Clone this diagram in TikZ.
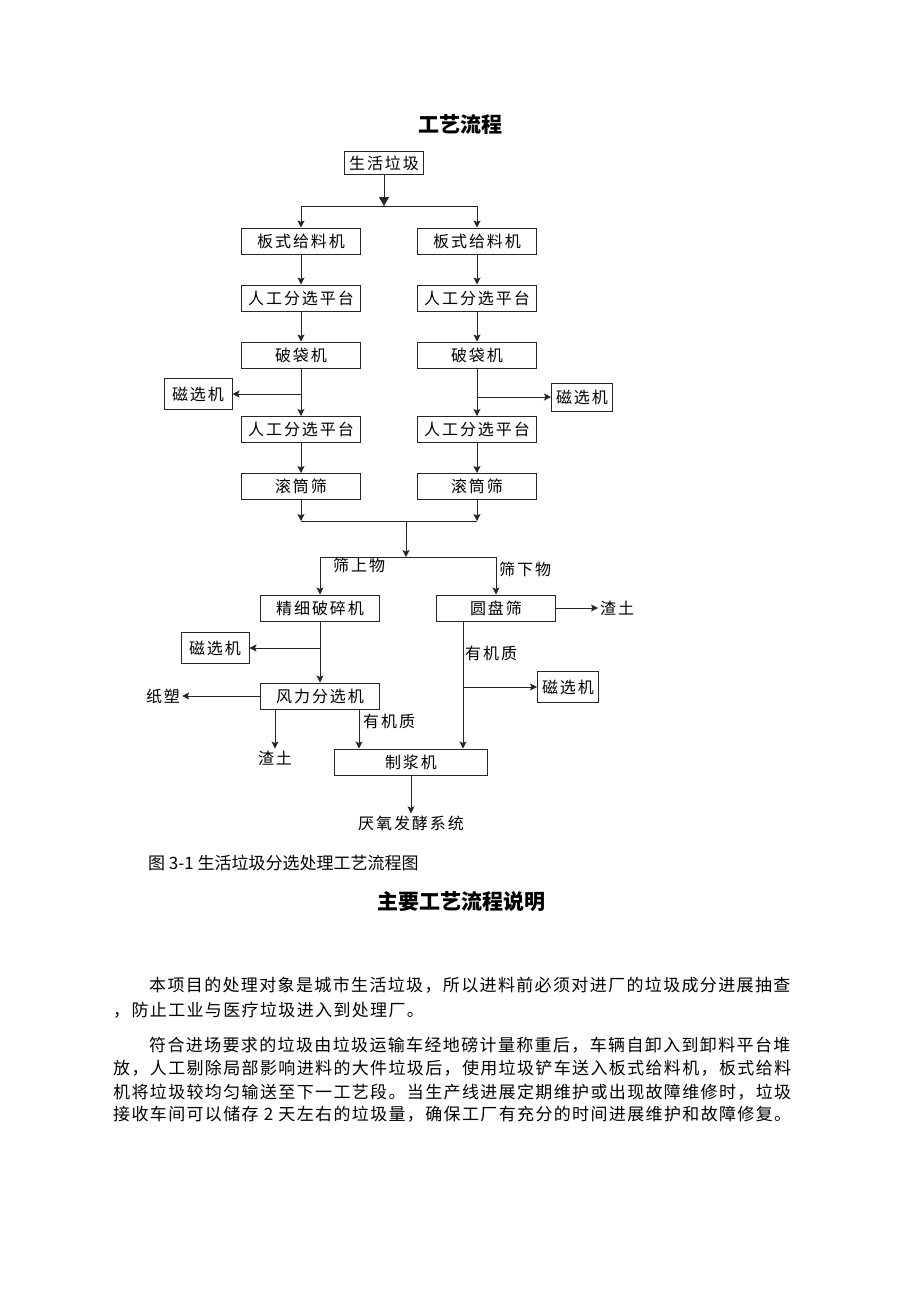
\documentclass[tikz,border=0pt]{standalone}
\usepackage{fontspec}
\newfontfamily\cjk{Noto Sans CJK SC}
\newfontfamily\boxfont[LetterSpace=12]{Noto Sans CJK SC}
\newfontfamily\bodyfont[LetterSpace=8]{Noto Sans CJK SC}
\usetikzlibrary{arrows, arrows.meta}
\tikzstyle{process} = [rectangle, minimum width=119pt, minimum height=26pt,
    inner sep=0pt, text centered, draw=black!85, line width=1pt,
    font=\boxfont\fontsize{16}{16}\selectfont]
\tikzstyle{source} = [process, minimum width=79pt, minimum height=23pt]
\tikzstyle{magnet} = [process, minimum width=68pt, minimum height=31pt]
\tikzstyle{note} = [inner sep=2pt, font=\boxfont\fontsize{16}{16}\selectfont]
\tikzstyle{para} = [inner sep=0pt, anchor=west, font=\bodyfont\fontsize{17}{17}\selectfont]
\tikzstyle{heading} = [inner sep=0pt, font=\cjk\bfseries\fontsize{21}{21}\selectfont]
\tikzstyle{link} = [line width=1pt, draw=black!85]
\tikzstyle{arrow} = [link, ->, >={Stealth[length=7pt,width=7pt,inset=1.5pt]}]
\tikzstyle{bigarrow} = [link, -{Triangle[length=9pt,width=10pt]}]

\begin{document}
\begin{tikzpicture}[x=1pt, y=-1pt, node distance=57pt]
\path[fill=white] (0,0) rectangle (920,1302);
\useasboundingbox (0,0) rectangle (920,1302);

% Nodes
\node (title) [heading] at (460,124) {工艺流程};
\node (waste) [source] at (384,163) {生活垃圾};
\node (feedL) [process] at (301,241) {板式给料机};
\node (feedR) [process, right of=feedL, xshift=119pt] {板式给料机};
\node (sortL1) [process, below of=feedL] {人工分选平台};
\node (sortR1) [process, below of=feedR] {人工分选平台};
\node (bagL) [process, below of=sortL1] {破袋机};
\node (bagR) [process, below of=sortR1] {破袋机};
\node (sortL2) [process, below of=bagL, yshift=-17.5pt] {人工分选平台};
\node (sortR2) [process, below of=bagR, yshift=-17.5pt] {人工分选平台};
\node (drumL) [process, below of=sortL2] {滚筒筛};
\node (drumR) [process, below of=sortR2] {滚筒筛};
\node (magL1) [magnet] at (198,394) {磁选机};
\node (magR1) [magnet, minimum width=61pt, minimum height=28pt] at (582,397) {磁选机};

\coordinate (split) at (384,206);
\coordinate (merge) at (406,521);
\coordinate (fork) at (406,557);

\node (crush) [process] at (320,608) {精细破碎机};
\node (disc) [process, right of=crush, xshift=119pt] {圆盘筛};
\node (over) [note, anchor=west] at (331,565) {筛上物};
\node (under) [note, anchor=west] at (497,569) {筛下物};
\node (slag1) [note, anchor=west] at (598,608) {渣土};
\node (magL2) [magnet] at (215,648) {磁选机};
\node (wind) [process, below of=crush, yshift=-31pt] {风力分选机};
\node (paper) [note] at (163,696) {纸塑};
\node (org1) [note, anchor=west] at (463,653) {有机质};
\node (magR2) [magnet, minimum width=61pt] at (568,687) {磁选机};
\node (slag2) [note] at (275,758) {渣土};
\node (org2) [note, anchor=west] at (361,721) {有机质};
\node (pulp) [process, minimum width=153pt] at (411,762) {制浆机};
\node (anaer) [note, below of=pulp, yshift=-4pt] {厌氧发酵系统};

\node (caption) [para, font=\cjk\fontsize{17}{17}\selectfont] at (148,863) {图 3-1 生活垃圾分选处理工艺流程图};
\node (title2) [heading] at (461,902) {主要工艺流程说明};
\node (para1) [para] at (149,985) {本项目的处理对象是城市生活垃圾，所以进料前必须对进厂的垃圾成分进展抽查};
\node (para2) [para] at (113,1010) {，防止工业与医疗垃圾进入到处理厂。};
\node (para3) [para] at (149,1045) {符合进场要求的垃圾由垃圾运输车经地磅计量称重后，车辆自卸入到卸料平台堆};
\node (para4) [para] at (113,1068) {放，人工剔除局部影响进料的大件垃圾后，使用垃圾铲车送入板式给料机，板式给料};
\node (para5) [para] at (113,1092) {机将垃圾较均匀输送至下一工艺段。当生产线进展定期维护或出现故障维修时，垃圾};
\node (para6) [para] at (113,1114) {接收车间可以储存 2 天左右的垃圾量，确保工厂有充分的时间进展维护和故障修复。};

% Arrows
\draw [bigarrow] (waste) -- (split);
\draw [link] (feedL |- split) -- (feedR |- split);
\draw [arrow] (feedL |- split) -- (feedL);
\draw [arrow] (feedR |- split) -- (feedR);
\draw [arrow] (feedL) -- (sortL1);
\draw [arrow] (feedR) -- (sortR1);
\draw [arrow] (sortL1) -- (bagL);
\draw [arrow] (sortR1) -- (bagR);
\draw [arrow] (bagL) -- (sortL2);
\draw [arrow] (bagR) -- (sortR2);
\draw [arrow] (bagL |- magL1) -- (magL1);
\draw [arrow] (bagR |- magR1) -- (magR1);
\draw [arrow] (sortL2) -- (drumL);
\draw [arrow] (sortR2) -- (drumR);
\draw [arrow] (drumL) -- (drumL |- merge);
\draw [arrow] (drumR) -- (drumR |- merge);
\draw [link] (drumL |- merge) -- (drumR |- merge);
\draw [arrow] (merge) -- (fork);
\draw [link] (crush |- fork) -- (disc |- fork);
\draw [arrow] (crush |- fork) -- (crush);
\draw [arrow] (disc |- fork) -- (disc);
\draw [arrow] (disc) -- (slag1);
\draw [arrow] (crush) -- (wind);
\draw [arrow] (crush |- magL2) -- (magL2);
\draw [arrow] (wind) -- (paper);
\draw [arrow] (slag2 |- wind.south) -- (slag2);
\draw [arrow] ([xshift=39pt]wind.south) -- ([xshift=39pt]wind.south |- pulp.north);
\draw [arrow] ([xshift=-33pt]disc.south) -- ([xshift=-33pt]disc.south |- pulp.north);
\draw [arrow] ([xshift=-33pt]disc.south |- magR2) -- (magR2);
\draw [arrow] (pulp) -- (anaer);

\end{tikzpicture}
\end{document}
